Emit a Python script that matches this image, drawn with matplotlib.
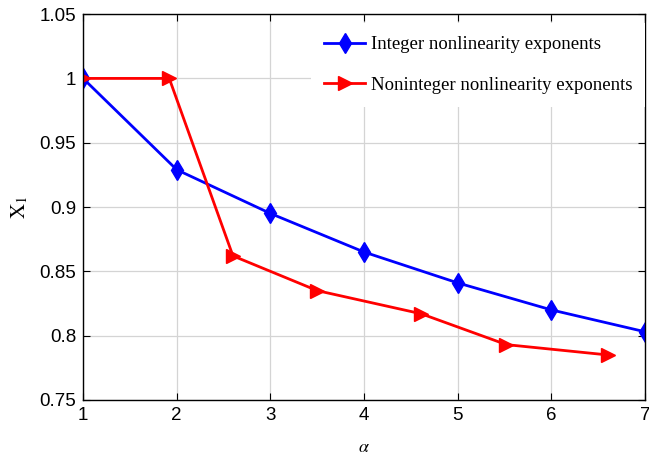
import numpy as np
import matplotlib
matplotlib.use('Agg')
import matplotlib.pyplot as plt

plt.rcParams['mathtext.fontset'] = 'stix'
plt.rcParams['font.family'] = ['Liberation Sans', 'DejaVu Sans']

# integer exponents
alphaInt = [1, 2, 3, 4, 5, 6, 7]
x1Int = [1.0, 0.929, 0.895, 0.865, 0.841, 0.820, 0.803]
# noninteger exponents
alphaNon = [1.0, 1.92, 2.6, 3.5, 4.61, 5.52, 6.6]
x1Non = [1.0, 1.0, 0.862, 0.835, 0.817, 0.793, 0.785]

labels = ['Integer nonlinearity exponents', 'Noninteger nonlinearity exponents']

fig = plt.figure(figsize=(6.49, 4.55), dpi=100)
ax = fig.add_axes([0.128, 0.121, 0.866, 0.848])

ax.plot(alphaInt, x1Int, color='#0000ff', lw=2, marker='d', ms=10, label=labels[0])
ax.plot(alphaNon, x1Non, color='#ff0000', lw=2, marker='>', ms=9.5, label=labels[1])

ax.set_xlim(1, 7)
ax.set_ylim(0.75, 1.05)
ax.set_xticks(range(1, 8))
ax.set_yticks([0.75, 0.8, 0.85, 0.9, 0.95, 1.0, 1.05])
ax.set_yticklabels(['0.75', '0.8', '0.85', '0.9', '0.95', '1', '1.05'])
ax.grid(True, color='#d4d4d4', lw=0.9)
ax.set_axisbelow(True)
ax.tick_params(direction='in', top=True, right=True, labelsize=13.5, length=5, pad=5)
for s in ax.spines.values():
    s.set_linewidth(1.0)

ax.set_xlabel(r'$\alpha$', fontsize=13, labelpad=11)
ax.set_ylabel(r'$\mathrm{X}_1$', fontsize=15, labelpad=7)

leg = ax.legend(loc='upper right', bbox_to_anchor=(1.0005, 0.977), frameon=True,
                fancybox=False, edgecolor='none', framealpha=1,
                prop={'family': 'Liberation Serif', 'size': 13.5},
                handlelength=2.2, labelspacing=1.25, borderaxespad=0, borderpad=0.7,
                handletextpad=0.3)

fig.savefig('out.png', dpi=100)
